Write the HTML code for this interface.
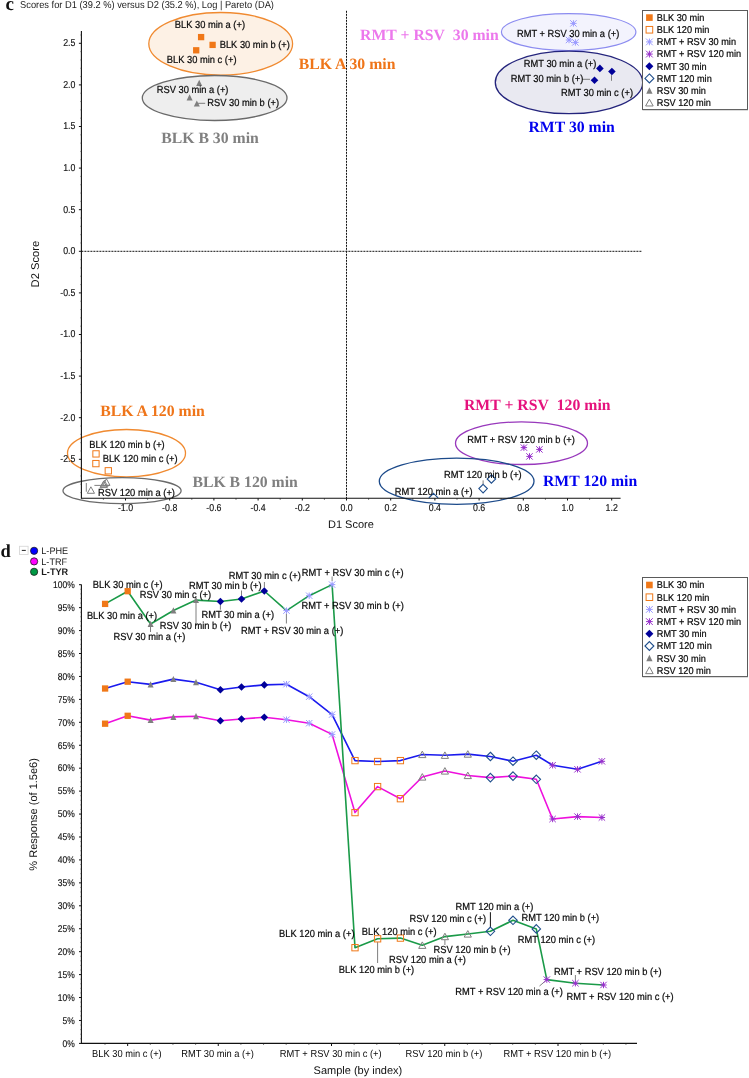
<!DOCTYPE html>
<html><head><meta charset="utf-8"><title>Scores plot</title>
<style>
html,body{margin:0;padding:0;background:#fff;}
body{width:749px;height:1078px;overflow:hidden;}
svg{display:block;will-change:transform;}

</style></head>
<body>
<svg width="749" height="1078" viewBox="0 0 749 1078" text-rendering="geometricPrecision">
<rect x="0" y="0" width="749" height="1078" fill="#fff"/>
<text x="5.60" y="9.60" font-size="19" fill="#111" text-anchor="start" font-weight="bold" font-family="Liberation Serif, serif" >c</text>
<text transform="translate(20.10 8.00) scale(0.929 1)" font-size="10.0" fill="#1a1a1a" text-anchor="start" font-weight="normal" font-family="Liberation Sans, sans-serif" >Scores for D1 (39.2 %) versus D2 (35.2 %), Log | Pareto (DA)</text>
<ellipse cx="220.70" cy="43.80" rx="71.90" ry="31.30" fill="#fdf1e5" stroke="#f08a30" stroke-width="1.3"/>
<ellipse cx="214.65" cy="98.00" rx="72.35" ry="22.50" fill="#eeeeee" stroke="#6a6a6a" stroke-width="1.3"/>
<ellipse cx="568.65" cy="32.10" rx="67.25" ry="18.50" fill="#f3f3fd" stroke="#8c8cf0" stroke-width="1.2"/>
<ellipse cx="569.00" cy="82.40" rx="73.70" ry="31.30" fill="#e9e9f1" stroke="#24247c" stroke-width="1.3"/>
<ellipse cx="126.50" cy="453.20" rx="59.00" ry="23.70" fill="none" stroke="#f08a30" stroke-width="1.3"/>
<ellipse cx="122.05" cy="490.70" rx="59.05" ry="13.00" fill="none" stroke="#6a6a6a" stroke-width="1.3"/>
<ellipse cx="521.50" cy="443.20" rx="66.00" ry="21.30" fill="none" stroke="#9838bc" stroke-width="1.3"/>
<ellipse cx="456.65" cy="481.20" rx="77.35" ry="23.10" fill="none" stroke="#1c4a8a" stroke-width="1.3"/>
<line x1="81.40" y1="251.30" x2="641.80" y2="251.30" stroke="#111" stroke-width="1" stroke-dasharray="2,1"/>
<line x1="81.40" y1="31.00" x2="81.40" y2="498.80" stroke="#111" stroke-width="1.1" />
<line x1="81.40" y1="498.30" x2="620.60" y2="498.30" stroke="#111" stroke-width="1.1" />
<line x1="80.40" y1="492.58" x2="81.40" y2="492.58" stroke="#333" stroke-width="0.6" />
<line x1="80.40" y1="484.26" x2="81.40" y2="484.26" stroke="#333" stroke-width="0.6" />
<line x1="80.40" y1="475.94" x2="81.40" y2="475.94" stroke="#333" stroke-width="0.6" />
<line x1="80.40" y1="467.62" x2="81.40" y2="467.62" stroke="#333" stroke-width="0.6" />
<line x1="78.90" y1="459.30" x2="81.40" y2="459.30" stroke="#111" stroke-width="1" />
<text transform="translate(75.40 462.10) scale(0.880 1)" font-size="10.0" fill="#111" text-anchor="end" font-weight="normal" font-family="Liberation Sans, sans-serif" stroke="#111" stroke-width="0.15">-2.5</text>
<line x1="80.40" y1="450.98" x2="81.40" y2="450.98" stroke="#333" stroke-width="0.6" />
<line x1="80.40" y1="442.66" x2="81.40" y2="442.66" stroke="#333" stroke-width="0.6" />
<line x1="80.40" y1="434.34" x2="81.40" y2="434.34" stroke="#333" stroke-width="0.6" />
<line x1="80.40" y1="426.02" x2="81.40" y2="426.02" stroke="#333" stroke-width="0.6" />
<line x1="78.90" y1="417.70" x2="81.40" y2="417.70" stroke="#111" stroke-width="1" />
<text transform="translate(75.40 420.50) scale(0.880 1)" font-size="10.0" fill="#111" text-anchor="end" font-weight="normal" font-family="Liberation Sans, sans-serif" stroke="#111" stroke-width="0.15">-2.0</text>
<line x1="80.40" y1="409.38" x2="81.40" y2="409.38" stroke="#333" stroke-width="0.6" />
<line x1="80.40" y1="401.06" x2="81.40" y2="401.06" stroke="#333" stroke-width="0.6" />
<line x1="80.40" y1="392.74" x2="81.40" y2="392.74" stroke="#333" stroke-width="0.6" />
<line x1="80.40" y1="384.42" x2="81.40" y2="384.42" stroke="#333" stroke-width="0.6" />
<line x1="78.90" y1="376.10" x2="81.40" y2="376.10" stroke="#111" stroke-width="1" />
<text transform="translate(75.40 378.90) scale(0.880 1)" font-size="10.0" fill="#111" text-anchor="end" font-weight="normal" font-family="Liberation Sans, sans-serif" stroke="#111" stroke-width="0.15">-1.5</text>
<line x1="80.40" y1="367.78" x2="81.40" y2="367.78" stroke="#333" stroke-width="0.6" />
<line x1="80.40" y1="359.46" x2="81.40" y2="359.46" stroke="#333" stroke-width="0.6" />
<line x1="80.40" y1="351.14" x2="81.40" y2="351.14" stroke="#333" stroke-width="0.6" />
<line x1="80.40" y1="342.82" x2="81.40" y2="342.82" stroke="#333" stroke-width="0.6" />
<line x1="78.90" y1="334.50" x2="81.40" y2="334.50" stroke="#111" stroke-width="1" />
<text transform="translate(75.40 337.30) scale(0.880 1)" font-size="10.0" fill="#111" text-anchor="end" font-weight="normal" font-family="Liberation Sans, sans-serif" stroke="#111" stroke-width="0.15">-1.0</text>
<line x1="80.40" y1="326.18" x2="81.40" y2="326.18" stroke="#333" stroke-width="0.6" />
<line x1="80.40" y1="317.86" x2="81.40" y2="317.86" stroke="#333" stroke-width="0.6" />
<line x1="80.40" y1="309.54" x2="81.40" y2="309.54" stroke="#333" stroke-width="0.6" />
<line x1="80.40" y1="301.22" x2="81.40" y2="301.22" stroke="#333" stroke-width="0.6" />
<line x1="78.90" y1="292.90" x2="81.40" y2="292.90" stroke="#111" stroke-width="1" />
<text transform="translate(75.40 295.70) scale(0.880 1)" font-size="10.0" fill="#111" text-anchor="end" font-weight="normal" font-family="Liberation Sans, sans-serif" stroke="#111" stroke-width="0.15">-0.5</text>
<line x1="80.40" y1="284.58" x2="81.40" y2="284.58" stroke="#333" stroke-width="0.6" />
<line x1="80.40" y1="276.26" x2="81.40" y2="276.26" stroke="#333" stroke-width="0.6" />
<line x1="80.40" y1="267.94" x2="81.40" y2="267.94" stroke="#333" stroke-width="0.6" />
<line x1="80.40" y1="259.62" x2="81.40" y2="259.62" stroke="#333" stroke-width="0.6" />
<line x1="78.90" y1="251.30" x2="81.40" y2="251.30" stroke="#111" stroke-width="1" />
<text transform="translate(75.40 254.10) scale(0.880 1)" font-size="10.0" fill="#111" text-anchor="end" font-weight="normal" font-family="Liberation Sans, sans-serif" stroke="#111" stroke-width="0.15">0.0</text>
<line x1="80.40" y1="242.98" x2="81.40" y2="242.98" stroke="#333" stroke-width="0.6" />
<line x1="80.40" y1="234.66" x2="81.40" y2="234.66" stroke="#333" stroke-width="0.6" />
<line x1="80.40" y1="226.34" x2="81.40" y2="226.34" stroke="#333" stroke-width="0.6" />
<line x1="80.40" y1="218.02" x2="81.40" y2="218.02" stroke="#333" stroke-width="0.6" />
<line x1="78.90" y1="209.70" x2="81.40" y2="209.70" stroke="#111" stroke-width="1" />
<text transform="translate(75.40 212.50) scale(0.880 1)" font-size="10.0" fill="#111" text-anchor="end" font-weight="normal" font-family="Liberation Sans, sans-serif" stroke="#111" stroke-width="0.15">0.5</text>
<line x1="80.40" y1="201.38" x2="81.40" y2="201.38" stroke="#333" stroke-width="0.6" />
<line x1="80.40" y1="193.06" x2="81.40" y2="193.06" stroke="#333" stroke-width="0.6" />
<line x1="80.40" y1="184.74" x2="81.40" y2="184.74" stroke="#333" stroke-width="0.6" />
<line x1="80.40" y1="176.42" x2="81.40" y2="176.42" stroke="#333" stroke-width="0.6" />
<line x1="78.90" y1="168.10" x2="81.40" y2="168.10" stroke="#111" stroke-width="1" />
<text transform="translate(75.40 170.90) scale(0.880 1)" font-size="10.0" fill="#111" text-anchor="end" font-weight="normal" font-family="Liberation Sans, sans-serif" stroke="#111" stroke-width="0.15">1.0</text>
<line x1="80.40" y1="159.78" x2="81.40" y2="159.78" stroke="#333" stroke-width="0.6" />
<line x1="80.40" y1="151.46" x2="81.40" y2="151.46" stroke="#333" stroke-width="0.6" />
<line x1="80.40" y1="143.14" x2="81.40" y2="143.14" stroke="#333" stroke-width="0.6" />
<line x1="80.40" y1="134.82" x2="81.40" y2="134.82" stroke="#333" stroke-width="0.6" />
<line x1="78.90" y1="126.50" x2="81.40" y2="126.50" stroke="#111" stroke-width="1" />
<text transform="translate(75.40 129.30) scale(0.880 1)" font-size="10.0" fill="#111" text-anchor="end" font-weight="normal" font-family="Liberation Sans, sans-serif" stroke="#111" stroke-width="0.15">1.5</text>
<line x1="80.40" y1="118.18" x2="81.40" y2="118.18" stroke="#333" stroke-width="0.6" />
<line x1="80.40" y1="109.86" x2="81.40" y2="109.86" stroke="#333" stroke-width="0.6" />
<line x1="80.40" y1="101.54" x2="81.40" y2="101.54" stroke="#333" stroke-width="0.6" />
<line x1="80.40" y1="93.22" x2="81.40" y2="93.22" stroke="#333" stroke-width="0.6" />
<line x1="78.90" y1="84.90" x2="81.40" y2="84.90" stroke="#111" stroke-width="1" />
<text transform="translate(75.40 87.70) scale(0.880 1)" font-size="10.0" fill="#111" text-anchor="end" font-weight="normal" font-family="Liberation Sans, sans-serif" stroke="#111" stroke-width="0.15">2.0</text>
<line x1="80.40" y1="76.58" x2="81.40" y2="76.58" stroke="#333" stroke-width="0.6" />
<line x1="80.40" y1="68.26" x2="81.40" y2="68.26" stroke="#333" stroke-width="0.6" />
<line x1="80.40" y1="59.94" x2="81.40" y2="59.94" stroke="#333" stroke-width="0.6" />
<line x1="80.40" y1="51.62" x2="81.40" y2="51.62" stroke="#333" stroke-width="0.6" />
<line x1="78.90" y1="43.30" x2="81.40" y2="43.30" stroke="#111" stroke-width="1" />
<text transform="translate(75.40 46.10) scale(0.880 1)" font-size="10.0" fill="#111" text-anchor="end" font-weight="normal" font-family="Liberation Sans, sans-serif" stroke="#111" stroke-width="0.15">2.5</text>
<line x1="80.40" y1="34.98" x2="81.40" y2="34.98" stroke="#333" stroke-width="0.6" />
<line x1="103.40" y1="498.30" x2="103.40" y2="499.70" stroke="#222" stroke-width="0.8" />
<line x1="125.50" y1="498.30" x2="125.50" y2="500.50" stroke="#111" stroke-width="1" />
<text transform="translate(125.50 510.60) scale(0.880 1)" font-size="10.0" fill="#111" text-anchor="middle" font-weight="normal" font-family="Liberation Sans, sans-serif" stroke="#111" stroke-width="0.15">-1.0</text>
<line x1="147.60" y1="498.30" x2="147.60" y2="499.70" stroke="#222" stroke-width="0.8" />
<line x1="169.70" y1="498.30" x2="169.70" y2="500.50" stroke="#111" stroke-width="1" />
<text transform="translate(169.70 510.60) scale(0.880 1)" font-size="10.0" fill="#111" text-anchor="middle" font-weight="normal" font-family="Liberation Sans, sans-serif" stroke="#111" stroke-width="0.15">-0.8</text>
<line x1="191.80" y1="498.30" x2="191.80" y2="499.70" stroke="#222" stroke-width="0.8" />
<line x1="213.90" y1="498.30" x2="213.90" y2="500.50" stroke="#111" stroke-width="1" />
<text transform="translate(213.90 510.60) scale(0.880 1)" font-size="10.0" fill="#111" text-anchor="middle" font-weight="normal" font-family="Liberation Sans, sans-serif" stroke="#111" stroke-width="0.15">-0.6</text>
<line x1="236.00" y1="498.30" x2="236.00" y2="499.70" stroke="#222" stroke-width="0.8" />
<line x1="258.10" y1="498.30" x2="258.10" y2="500.50" stroke="#111" stroke-width="1" />
<text transform="translate(258.10 510.60) scale(0.880 1)" font-size="10.0" fill="#111" text-anchor="middle" font-weight="normal" font-family="Liberation Sans, sans-serif" stroke="#111" stroke-width="0.15">-0.4</text>
<line x1="280.20" y1="498.30" x2="280.20" y2="499.70" stroke="#222" stroke-width="0.8" />
<line x1="302.30" y1="498.30" x2="302.30" y2="500.50" stroke="#111" stroke-width="1" />
<text transform="translate(302.30 510.60) scale(0.880 1)" font-size="10.0" fill="#111" text-anchor="middle" font-weight="normal" font-family="Liberation Sans, sans-serif" stroke="#111" stroke-width="0.15">-0.2</text>
<line x1="324.40" y1="498.30" x2="324.40" y2="499.70" stroke="#222" stroke-width="0.8" />
<line x1="346.50" y1="498.30" x2="346.50" y2="500.50" stroke="#111" stroke-width="1" />
<text transform="translate(346.50 510.60) scale(0.880 1)" font-size="10.0" fill="#111" text-anchor="middle" font-weight="normal" font-family="Liberation Sans, sans-serif" stroke="#111" stroke-width="0.15">0.0</text>
<line x1="368.60" y1="498.30" x2="368.60" y2="499.70" stroke="#222" stroke-width="0.8" />
<line x1="390.70" y1="498.30" x2="390.70" y2="500.50" stroke="#111" stroke-width="1" />
<text transform="translate(390.70 510.60) scale(0.880 1)" font-size="10.0" fill="#111" text-anchor="middle" font-weight="normal" font-family="Liberation Sans, sans-serif" stroke="#111" stroke-width="0.15">0.2</text>
<line x1="412.80" y1="498.30" x2="412.80" y2="499.70" stroke="#222" stroke-width="0.8" />
<line x1="434.90" y1="498.30" x2="434.90" y2="500.50" stroke="#111" stroke-width="1" />
<text transform="translate(434.90 510.60) scale(0.880 1)" font-size="10.0" fill="#111" text-anchor="middle" font-weight="normal" font-family="Liberation Sans, sans-serif" stroke="#111" stroke-width="0.15">0.4</text>
<line x1="457.00" y1="498.30" x2="457.00" y2="499.70" stroke="#222" stroke-width="0.8" />
<line x1="479.10" y1="498.30" x2="479.10" y2="500.50" stroke="#111" stroke-width="1" />
<text transform="translate(479.10 510.60) scale(0.880 1)" font-size="10.0" fill="#111" text-anchor="middle" font-weight="normal" font-family="Liberation Sans, sans-serif" stroke="#111" stroke-width="0.15">0.6</text>
<line x1="501.20" y1="498.30" x2="501.20" y2="499.70" stroke="#222" stroke-width="0.8" />
<line x1="523.30" y1="498.30" x2="523.30" y2="500.50" stroke="#111" stroke-width="1" />
<text transform="translate(523.30 510.60) scale(0.880 1)" font-size="10.0" fill="#111" text-anchor="middle" font-weight="normal" font-family="Liberation Sans, sans-serif" stroke="#111" stroke-width="0.15">0.8</text>
<line x1="545.40" y1="498.30" x2="545.40" y2="499.70" stroke="#222" stroke-width="0.8" />
<line x1="567.50" y1="498.30" x2="567.50" y2="500.50" stroke="#111" stroke-width="1" />
<text transform="translate(567.50 510.60) scale(0.880 1)" font-size="10.0" fill="#111" text-anchor="middle" font-weight="normal" font-family="Liberation Sans, sans-serif" stroke="#111" stroke-width="0.15">1.0</text>
<line x1="589.60" y1="498.30" x2="589.60" y2="499.70" stroke="#222" stroke-width="0.8" />
<line x1="611.70" y1="498.30" x2="611.70" y2="500.50" stroke="#111" stroke-width="1" />
<text transform="translate(611.70 510.60) scale(0.880 1)" font-size="10.0" fill="#111" text-anchor="middle" font-weight="normal" font-family="Liberation Sans, sans-serif" stroke="#111" stroke-width="0.15">1.2</text>
<text x="350.90" y="527.60" font-size="11" fill="#111" text-anchor="middle" font-weight="normal" font-family="Liberation Sans, sans-serif" >D1 Score</text>
<text transform="translate(39.3 264.1) rotate(-90)" font-size="11.2" fill="#111" text-anchor="middle" font-family="Liberation Sans, sans-serif">D2 Score</text>
<text x="298.70" y="69.00" font-size="15.75" fill="#ef7519" text-anchor="start" font-weight="bold" font-family="Liberation Serif, serif" >BLK A 30 min</text>
<text x="161.20" y="142.50" font-size="15.75" fill="#808080" text-anchor="start" font-weight="bold" font-family="Liberation Serif, serif" >BLK B 30 min</text>
<text x="360.10" y="39.50" font-size="15.75" fill="#ec78ec" text-anchor="start" font-weight="bold" font-family="Liberation Serif, serif" >RMT + RSV  30 min</text>
<text x="528.50" y="132.20" font-size="15.75" fill="#0000ee" text-anchor="start" font-weight="bold" font-family="Liberation Serif, serif" >RMT 30 min</text>
<text x="100.20" y="416.10" font-size="15.75" fill="#ef7519" text-anchor="start" font-weight="bold" font-family="Liberation Serif, serif" >BLK A 120 min</text>
<text x="192.40" y="486.70" font-size="15.75" fill="#808080" text-anchor="start" font-weight="bold" font-family="Liberation Serif, serif" >BLK B 120 min</text>
<text x="464.00" y="409.80" font-size="15.75" fill="#e5127d" text-anchor="start" font-weight="bold" font-family="Liberation Serif, serif" >RMT + RSV  120 min</text>
<text x="543.00" y="486.20" font-size="15.75" fill="#0000ee" text-anchor="start" font-weight="bold" font-family="Liberation Serif, serif" >RMT 120 min</text>
<line x1="346.50" y1="10.80" x2="346.50" y2="498.30" stroke="#111" stroke-width="1" stroke-dasharray="2,1"/>
<line x1="197.30" y1="103.30" x2="205.20" y2="103.30" stroke="#707070" stroke-width="0.9" />
<line x1="582.10" y1="79.30" x2="590.00" y2="79.30" stroke="#707070" stroke-width="0.9" />
<line x1="611.50" y1="75.20" x2="611.50" y2="80.80" stroke="#707070" stroke-width="0.9" />
<line x1="86.30" y1="483.00" x2="86.30" y2="491.70" stroke="#707070" stroke-width="0.9" />
<line x1="94.40" y1="485.40" x2="109.70" y2="485.40" stroke="#707070" stroke-width="0.9" />
<line x1="483.10" y1="480.40" x2="483.10" y2="484.10" stroke="#707070" stroke-width="0.9" />
<rect x="197.95" y="33.95" width="6.30" height="6.30" fill="#f07818"/>
<rect x="209.45" y="41.75" width="6.30" height="6.30" fill="#f07818"/>
<rect x="193.05" y="47.15" width="6.30" height="6.30" fill="#f07818"/>
<polygon points="199.20,79.80 202.20,86.00 196.20,86.00" fill="#7f7f7f"/>
<polygon points="189.60,94.30 192.60,100.50 186.60,100.50" fill="#7f7f7f"/>
<polygon points="196.80,100.40 199.80,106.60 193.80,106.60" fill="#7f7f7f"/>
<path d="M570.20,23.40H576.60M573.40,20.20V26.60M570.20,20.20L576.60,26.60M570.20,26.60L576.60,20.20" stroke="#9c9cff" stroke-width="1.0" fill="none"/>
<circle cx="573.40" cy="23.40" r="1.30" fill="#9c9cff"/>
<path d="M565.80,40.00H572.20M569.00,36.80V43.20M565.80,36.80L572.20,43.20M565.80,43.20L572.20,36.80" stroke="#9c9cff" stroke-width="1.0" fill="none"/>
<circle cx="569.00" cy="40.00" r="1.30" fill="#9c9cff"/>
<path d="M572.20,42.40H578.60M575.40,39.20V45.60M572.20,39.20L578.60,45.60M572.20,45.60L578.60,39.20" stroke="#9c9cff" stroke-width="1.0" fill="none"/>
<circle cx="575.40" cy="42.40" r="1.30" fill="#9c9cff"/>
<polygon points="599.90,64.60 603.70,68.40 599.90,72.20 596.10,68.40" fill="#000099"/>
<polygon points="611.90,67.70 615.70,71.50 611.90,75.30 608.10,71.50" fill="#000099"/>
<polygon points="594.50,76.40 598.30,80.20 594.50,84.00 590.70,80.20" fill="#000099"/>
<rect x="92.85" y="450.75" width="6.30" height="6.30" fill="none" stroke="#f07818" stroke-width="1"/>
<rect x="92.75" y="460.45" width="6.30" height="6.30" fill="none" stroke="#f07818" stroke-width="1"/>
<rect x="105.15" y="467.65" width="6.30" height="6.30" fill="none" stroke="#f07818" stroke-width="1"/>
<polygon points="90.90,486.80 94.50,493.30 87.30,493.30" fill="none" stroke="#7f7f7f" stroke-width="1"/>
<polygon points="106.40,478.80 110.00,485.30 102.80,485.30" fill="none" stroke="#7f7f7f" stroke-width="1"/>
<polygon points="104.40,480.30 108.00,486.80 100.80,486.80" fill="none" stroke="#7f7f7f" stroke-width="1"/>
<polygon points="103.60,481.10 107.20,487.60 100.00,487.60" fill="none" stroke="#7f7f7f" stroke-width="1"/>
<path d="M520.70,447.60H527.10M523.90,444.40V450.80M520.70,444.40L527.10,450.80M520.70,450.80L527.10,444.40" stroke="#9933cc" stroke-width="1.0" fill="none"/>
<circle cx="523.90" cy="447.60" r="1.30" fill="#9933cc"/>
<path d="M526.30,456.40H532.70M529.50,453.20V459.60M526.30,453.20L532.70,459.60M526.30,459.60L532.70,453.20" stroke="#9933cc" stroke-width="1.0" fill="none"/>
<circle cx="529.50" cy="456.40" r="1.30" fill="#9933cc"/>
<path d="M536.20,449.40H542.60M539.40,446.20V452.60M536.20,446.20L542.60,452.60M536.20,452.60L542.60,446.20" stroke="#9933cc" stroke-width="1.0" fill="none"/>
<circle cx="539.40" cy="449.40" r="1.30" fill="#9933cc"/>
<clipPath id="pc"><rect x="81" y="0" width="560" height="498"/></clipPath>
<g clip-path="url(#pc)">
<polygon points="483.10,484.35 487.35,488.60 483.10,492.85 478.85,488.60" fill="none" stroke="#1f4e8c" stroke-width="1.1"/>
<polygon points="491.40,474.75 495.65,479.00 491.40,483.25 487.15,479.00" fill="none" stroke="#1f4e8c" stroke-width="1.1"/>
<polygon points="433.50,493.35 437.75,497.60 433.50,501.85 429.25,497.60" fill="none" stroke="#1f4e8c" stroke-width="1.1"/>
</g>
<text transform="translate(174.80 28.10) scale(0.915 1)" font-size="10.2" fill="#0a0a0a" text-anchor="start" font-weight="normal" font-family="Liberation Sans, sans-serif" stroke="#0a0a0a" stroke-width="0.22">BLK 30 min a (+)</text>
<text transform="translate(219.70 47.70) scale(0.915 1)" font-size="10.2" fill="#0a0a0a" text-anchor="start" font-weight="normal" font-family="Liberation Sans, sans-serif" stroke="#0a0a0a" stroke-width="0.22">BLK 30 min b (+)</text>
<text transform="translate(166.80 62.70) scale(0.915 1)" font-size="10.2" fill="#0a0a0a" text-anchor="start" font-weight="normal" font-family="Liberation Sans, sans-serif" stroke="#0a0a0a" stroke-width="0.22">BLK 30 min c (+)</text>
<text transform="translate(156.70 93.00) scale(0.915 1)" font-size="10.2" fill="#0a0a0a" text-anchor="start" font-weight="normal" font-family="Liberation Sans, sans-serif" stroke="#0a0a0a" stroke-width="0.22">RSV 30 min a (+)</text>
<text transform="translate(207.30 106.20) scale(0.915 1)" font-size="10.2" fill="#0a0a0a" text-anchor="start" font-weight="normal" font-family="Liberation Sans, sans-serif" stroke="#0a0a0a" stroke-width="0.22">RSV 30 min b (+)</text>
<text transform="translate(516.90 36.50) scale(0.915 1)" font-size="10.2" fill="#0a0a0a" text-anchor="start" font-weight="normal" font-family="Liberation Sans, sans-serif" stroke="#0a0a0a" stroke-width="0.22">RMT + RSV 30 min a (+)</text>
<text transform="translate(523.80 67.30) scale(0.915 1)" font-size="10.2" fill="#0a0a0a" text-anchor="start" font-weight="normal" font-family="Liberation Sans, sans-serif" stroke="#0a0a0a" stroke-width="0.22">RMT 30 min a (+)</text>
<text transform="translate(510.70 81.60) scale(0.915 1)" font-size="10.2" fill="#0a0a0a" text-anchor="start" font-weight="normal" font-family="Liberation Sans, sans-serif" stroke="#0a0a0a" stroke-width="0.22">RMT 30 min b (+)</text>
<text transform="translate(560.90 95.50) scale(0.915 1)" font-size="10.2" fill="#0a0a0a" text-anchor="start" font-weight="normal" font-family="Liberation Sans, sans-serif" stroke="#0a0a0a" stroke-width="0.22">RMT 30 min c (+)</text>
<text transform="translate(89.30 448.10) scale(0.915 1)" font-size="10.2" fill="#0a0a0a" text-anchor="start" font-weight="normal" font-family="Liberation Sans, sans-serif" stroke="#0a0a0a" stroke-width="0.22">BLK 120 min b (+)</text>
<text transform="translate(102.70 461.60) scale(0.915 1)" font-size="10.2" fill="#0a0a0a" text-anchor="start" font-weight="normal" font-family="Liberation Sans, sans-serif" stroke="#0a0a0a" stroke-width="0.22">BLK 120 min c (+)</text>
<text transform="translate(98.00 496.20) scale(0.915 1)" font-size="10.2" fill="#0a0a0a" text-anchor="start" font-weight="normal" font-family="Liberation Sans, sans-serif" stroke="#0a0a0a" stroke-width="0.22">RSV 120 min a (+)</text>
<text transform="translate(467.20 443.00) scale(0.915 1)" font-size="10.2" fill="#0a0a0a" text-anchor="start" font-weight="normal" font-family="Liberation Sans, sans-serif" stroke="#0a0a0a" stroke-width="0.22">RMT + RSV 120 min b (+)</text>
<text transform="translate(443.90 478.20) scale(0.915 1)" font-size="10.2" fill="#0a0a0a" text-anchor="start" font-weight="normal" font-family="Liberation Sans, sans-serif" stroke="#0a0a0a" stroke-width="0.22">RMT 120 min b (+)</text>
<text transform="translate(394.80 495.30) scale(0.915 1)" font-size="10.2" fill="#0a0a0a" text-anchor="start" font-weight="normal" font-family="Liberation Sans, sans-serif" stroke="#0a0a0a" stroke-width="0.22">RMT 120 min a (+)</text>
<rect x="642.5" y="10.5" width="105.0" height="99.0" fill="#fff" stroke="#5a5a5a" stroke-width="1"/>
<line x1="642.50" y1="109.80" x2="748.00" y2="109.80" stroke="#6a6a6a" stroke-width="0.8" />
<rect x="646.09" y="14.29" width="6.62" height="6.62" fill="#f07818"/>
<text transform="translate(656.80 20.90) scale(0.930 1)" font-size="9.9" fill="#0a0a0a" text-anchor="start" font-weight="normal" font-family="Liberation Sans, sans-serif" stroke="#0a0a0a" stroke-width="0.22">BLK 30 min</text>
<rect x="646.09" y="26.45" width="6.62" height="6.62" fill="none" stroke="#f07818" stroke-width="1"/>
<text transform="translate(656.80 33.06) scale(0.930 1)" font-size="9.9" fill="#0a0a0a" text-anchor="start" font-weight="normal" font-family="Liberation Sans, sans-serif" stroke="#0a0a0a" stroke-width="0.22">BLK 120 min</text>
<path d="M646.04,41.92H652.76M649.40,38.56V45.28M646.04,38.56L652.76,45.28M646.04,45.28L652.76,38.56" stroke="#9c9cff" stroke-width="1.0" fill="none"/>
<circle cx="649.40" cy="41.92" r="1.37" fill="#9c9cff"/>
<text transform="translate(656.80 45.22) scale(0.930 1)" font-size="9.9" fill="#0a0a0a" text-anchor="start" font-weight="normal" font-family="Liberation Sans, sans-serif" stroke="#0a0a0a" stroke-width="0.22">RMT + RSV 30 min</text>
<path d="M646.04,54.08H652.76M649.40,50.72V57.44M646.04,50.72L652.76,57.44M646.04,57.44L652.76,50.72" stroke="#9933cc" stroke-width="1.0" fill="none"/>
<circle cx="649.40" cy="54.08" r="1.37" fill="#9933cc"/>
<text transform="translate(656.80 57.38) scale(0.930 1)" font-size="9.9" fill="#0a0a0a" text-anchor="start" font-weight="normal" font-family="Liberation Sans, sans-serif" stroke="#0a0a0a" stroke-width="0.22">RMT + RSV 120 min</text>
<polygon points="649.40,62.25 653.39,66.24 649.40,70.23 645.41,66.24" fill="#000099"/>
<text transform="translate(656.80 69.54) scale(0.930 1)" font-size="9.9" fill="#0a0a0a" text-anchor="start" font-weight="normal" font-family="Liberation Sans, sans-serif" stroke="#0a0a0a" stroke-width="0.22">RMT 30 min</text>
<polygon points="649.40,73.94 653.86,78.40 649.40,82.86 644.94,78.40" fill="none" stroke="#1f4e8c" stroke-width="1.1"/>
<text transform="translate(656.80 81.70) scale(0.930 1)" font-size="9.9" fill="#0a0a0a" text-anchor="start" font-weight="normal" font-family="Liberation Sans, sans-serif" stroke="#0a0a0a" stroke-width="0.22">RMT 120 min</text>
<polygon points="649.40,87.21 652.55,93.71 646.25,93.71" fill="#7f7f7f"/>
<text transform="translate(656.80 93.86) scale(0.930 1)" font-size="9.9" fill="#0a0a0a" text-anchor="start" font-weight="normal" font-family="Liberation Sans, sans-serif" stroke="#0a0a0a" stroke-width="0.22">RSV 30 min</text>
<polygon points="649.40,99.17 653.18,105.98 645.62,105.98" fill="none" stroke="#7f7f7f" stroke-width="1"/>
<text transform="translate(656.80 106.02) scale(0.930 1)" font-size="9.9" fill="#0a0a0a" text-anchor="start" font-weight="normal" font-family="Liberation Sans, sans-serif" stroke="#0a0a0a" stroke-width="0.22">RSV 120 min</text>
<text x="0.60" y="557.40" font-size="18.5" fill="#111" text-anchor="start" font-weight="bold" font-family="Liberation Serif, serif" >d</text>
<rect x="19.5" y="546.3" width="8.6" height="8.2" fill="#fff" stroke="#d8d8d8" stroke-width="0.9"/>
<line x1="21.80" y1="550.40" x2="25.80" y2="550.40" stroke="#222" stroke-width="1" />
<circle cx="34.1" cy="550.8" r="3.6" fill="#0000ff" stroke="#1a1a1a" stroke-width="0.8"/>
<text transform="translate(41.30 553.90) scale(0.960 1)" font-size="9.5" fill="#1a1a1a" text-anchor="start" font-weight="normal" font-family="Liberation Sans, sans-serif" >L-PHE</text>
<circle cx="34.1" cy="561.4" r="3.6" fill="#ff00ff" stroke="#1a1a1a" stroke-width="0.8"/>
<text transform="translate(41.30 564.50) scale(0.960 1)" font-size="9.5" fill="#1a1a1a" text-anchor="start" font-weight="normal" font-family="Liberation Sans, sans-serif" >L-TRF</text>
<circle cx="34.1" cy="571.8" r="3.6" fill="#009944" stroke="#1a1a1a" stroke-width="0.8"/>
<text transform="translate(41.30 574.90) scale(0.960 1)" font-size="9.5" fill="#1a1a1a" text-anchor="start" font-weight="bold" font-family="Liberation Sans, sans-serif" >L-TYR</text>
<line x1="81.40" y1="584.60" x2="81.40" y2="1043.90" stroke="#111" stroke-width="1.1" />
<line x1="81.40" y1="1043.40" x2="637.00" y2="1043.40" stroke="#111" stroke-width="1.1" />
<line x1="79.00" y1="1043.40" x2="81.40" y2="1043.40" stroke="#111" stroke-width="1" />
<text transform="translate(74.70 1046.70) scale(0.865 1)" font-size="9.8" fill="#111" text-anchor="end" font-weight="normal" font-family="Liberation Sans, sans-serif" stroke="#111" stroke-width="0.15">0%</text>
<line x1="80.40" y1="1038.81" x2="81.40" y2="1038.81" stroke="#333" stroke-width="0.6" />
<line x1="80.40" y1="1034.23" x2="81.40" y2="1034.23" stroke="#333" stroke-width="0.6" />
<line x1="80.40" y1="1029.64" x2="81.40" y2="1029.64" stroke="#333" stroke-width="0.6" />
<line x1="80.40" y1="1025.05" x2="81.40" y2="1025.05" stroke="#333" stroke-width="0.6" />
<line x1="79.00" y1="1020.47" x2="81.40" y2="1020.47" stroke="#111" stroke-width="1" />
<text transform="translate(74.70 1023.77) scale(0.865 1)" font-size="9.8" fill="#111" text-anchor="end" font-weight="normal" font-family="Liberation Sans, sans-serif" stroke="#111" stroke-width="0.15">5%</text>
<line x1="80.40" y1="1015.88" x2="81.40" y2="1015.88" stroke="#333" stroke-width="0.6" />
<line x1="80.40" y1="1011.29" x2="81.40" y2="1011.29" stroke="#333" stroke-width="0.6" />
<line x1="80.40" y1="1006.70" x2="81.40" y2="1006.70" stroke="#333" stroke-width="0.6" />
<line x1="80.40" y1="1002.12" x2="81.40" y2="1002.12" stroke="#333" stroke-width="0.6" />
<line x1="79.00" y1="997.53" x2="81.40" y2="997.53" stroke="#111" stroke-width="1" />
<text transform="translate(74.70 1000.83) scale(0.865 1)" font-size="9.8" fill="#111" text-anchor="end" font-weight="normal" font-family="Liberation Sans, sans-serif" stroke="#111" stroke-width="0.15">10%</text>
<line x1="80.40" y1="992.94" x2="81.40" y2="992.94" stroke="#333" stroke-width="0.6" />
<line x1="80.40" y1="988.36" x2="81.40" y2="988.36" stroke="#333" stroke-width="0.6" />
<line x1="80.40" y1="983.77" x2="81.40" y2="983.77" stroke="#333" stroke-width="0.6" />
<line x1="80.40" y1="979.18" x2="81.40" y2="979.18" stroke="#333" stroke-width="0.6" />
<line x1="79.00" y1="974.60" x2="81.40" y2="974.60" stroke="#111" stroke-width="1" />
<text transform="translate(74.70 977.90) scale(0.865 1)" font-size="9.8" fill="#111" text-anchor="end" font-weight="normal" font-family="Liberation Sans, sans-serif" stroke="#111" stroke-width="0.15">15%</text>
<line x1="80.40" y1="970.01" x2="81.40" y2="970.01" stroke="#333" stroke-width="0.6" />
<line x1="80.40" y1="965.42" x2="81.40" y2="965.42" stroke="#333" stroke-width="0.6" />
<line x1="80.40" y1="960.83" x2="81.40" y2="960.83" stroke="#333" stroke-width="0.6" />
<line x1="80.40" y1="956.25" x2="81.40" y2="956.25" stroke="#333" stroke-width="0.6" />
<line x1="79.00" y1="951.66" x2="81.40" y2="951.66" stroke="#111" stroke-width="1" />
<text transform="translate(74.70 954.96) scale(0.865 1)" font-size="9.8" fill="#111" text-anchor="end" font-weight="normal" font-family="Liberation Sans, sans-serif" stroke="#111" stroke-width="0.15">20%</text>
<line x1="80.40" y1="947.07" x2="81.40" y2="947.07" stroke="#333" stroke-width="0.6" />
<line x1="80.40" y1="942.49" x2="81.40" y2="942.49" stroke="#333" stroke-width="0.6" />
<line x1="80.40" y1="937.90" x2="81.40" y2="937.90" stroke="#333" stroke-width="0.6" />
<line x1="80.40" y1="933.31" x2="81.40" y2="933.31" stroke="#333" stroke-width="0.6" />
<line x1="79.00" y1="928.73" x2="81.40" y2="928.73" stroke="#111" stroke-width="1" />
<text transform="translate(74.70 932.03) scale(0.865 1)" font-size="9.8" fill="#111" text-anchor="end" font-weight="normal" font-family="Liberation Sans, sans-serif" stroke="#111" stroke-width="0.15">25%</text>
<line x1="80.40" y1="924.14" x2="81.40" y2="924.14" stroke="#333" stroke-width="0.6" />
<line x1="80.40" y1="919.55" x2="81.40" y2="919.55" stroke="#333" stroke-width="0.6" />
<line x1="80.40" y1="914.96" x2="81.40" y2="914.96" stroke="#333" stroke-width="0.6" />
<line x1="80.40" y1="910.38" x2="81.40" y2="910.38" stroke="#333" stroke-width="0.6" />
<line x1="79.00" y1="905.79" x2="81.40" y2="905.79" stroke="#111" stroke-width="1" />
<text transform="translate(74.70 909.09) scale(0.865 1)" font-size="9.8" fill="#111" text-anchor="end" font-weight="normal" font-family="Liberation Sans, sans-serif" stroke="#111" stroke-width="0.15">30%</text>
<line x1="80.40" y1="901.20" x2="81.40" y2="901.20" stroke="#333" stroke-width="0.6" />
<line x1="80.40" y1="896.62" x2="81.40" y2="896.62" stroke="#333" stroke-width="0.6" />
<line x1="80.40" y1="892.03" x2="81.40" y2="892.03" stroke="#333" stroke-width="0.6" />
<line x1="80.40" y1="887.44" x2="81.40" y2="887.44" stroke="#333" stroke-width="0.6" />
<line x1="79.00" y1="882.86" x2="81.40" y2="882.86" stroke="#111" stroke-width="1" />
<text transform="translate(74.70 886.16) scale(0.865 1)" font-size="9.8" fill="#111" text-anchor="end" font-weight="normal" font-family="Liberation Sans, sans-serif" stroke="#111" stroke-width="0.15">35%</text>
<line x1="80.40" y1="878.27" x2="81.40" y2="878.27" stroke="#333" stroke-width="0.6" />
<line x1="80.40" y1="873.68" x2="81.40" y2="873.68" stroke="#333" stroke-width="0.6" />
<line x1="80.40" y1="869.09" x2="81.40" y2="869.09" stroke="#333" stroke-width="0.6" />
<line x1="80.40" y1="864.51" x2="81.40" y2="864.51" stroke="#333" stroke-width="0.6" />
<line x1="79.00" y1="859.92" x2="81.40" y2="859.92" stroke="#111" stroke-width="1" />
<text transform="translate(74.70 863.22) scale(0.865 1)" font-size="9.8" fill="#111" text-anchor="end" font-weight="normal" font-family="Liberation Sans, sans-serif" stroke="#111" stroke-width="0.15">40%</text>
<line x1="80.40" y1="855.33" x2="81.40" y2="855.33" stroke="#333" stroke-width="0.6" />
<line x1="80.40" y1="850.75" x2="81.40" y2="850.75" stroke="#333" stroke-width="0.6" />
<line x1="80.40" y1="846.16" x2="81.40" y2="846.16" stroke="#333" stroke-width="0.6" />
<line x1="80.40" y1="841.57" x2="81.40" y2="841.57" stroke="#333" stroke-width="0.6" />
<line x1="79.00" y1="836.99" x2="81.40" y2="836.99" stroke="#111" stroke-width="1" />
<text transform="translate(74.70 840.29) scale(0.865 1)" font-size="9.8" fill="#111" text-anchor="end" font-weight="normal" font-family="Liberation Sans, sans-serif" stroke="#111" stroke-width="0.15">45%</text>
<line x1="80.40" y1="832.40" x2="81.40" y2="832.40" stroke="#333" stroke-width="0.6" />
<line x1="80.40" y1="827.81" x2="81.40" y2="827.81" stroke="#333" stroke-width="0.6" />
<line x1="80.40" y1="823.22" x2="81.40" y2="823.22" stroke="#333" stroke-width="0.6" />
<line x1="80.40" y1="818.64" x2="81.40" y2="818.64" stroke="#333" stroke-width="0.6" />
<line x1="79.00" y1="814.05" x2="81.40" y2="814.05" stroke="#111" stroke-width="1" />
<text transform="translate(74.70 817.35) scale(0.865 1)" font-size="9.8" fill="#111" text-anchor="end" font-weight="normal" font-family="Liberation Sans, sans-serif" stroke="#111" stroke-width="0.15">50%</text>
<line x1="80.40" y1="809.46" x2="81.40" y2="809.46" stroke="#333" stroke-width="0.6" />
<line x1="80.40" y1="804.88" x2="81.40" y2="804.88" stroke="#333" stroke-width="0.6" />
<line x1="80.40" y1="800.29" x2="81.40" y2="800.29" stroke="#333" stroke-width="0.6" />
<line x1="80.40" y1="795.70" x2="81.40" y2="795.70" stroke="#333" stroke-width="0.6" />
<line x1="79.00" y1="791.12" x2="81.40" y2="791.12" stroke="#111" stroke-width="1" />
<text transform="translate(74.70 794.42) scale(0.865 1)" font-size="9.8" fill="#111" text-anchor="end" font-weight="normal" font-family="Liberation Sans, sans-serif" stroke="#111" stroke-width="0.15">55%</text>
<line x1="80.40" y1="786.53" x2="81.40" y2="786.53" stroke="#333" stroke-width="0.6" />
<line x1="80.40" y1="781.94" x2="81.40" y2="781.94" stroke="#333" stroke-width="0.6" />
<line x1="80.40" y1="777.35" x2="81.40" y2="777.35" stroke="#333" stroke-width="0.6" />
<line x1="80.40" y1="772.77" x2="81.40" y2="772.77" stroke="#333" stroke-width="0.6" />
<line x1="79.00" y1="768.18" x2="81.40" y2="768.18" stroke="#111" stroke-width="1" />
<text transform="translate(74.70 771.48) scale(0.865 1)" font-size="9.8" fill="#111" text-anchor="end" font-weight="normal" font-family="Liberation Sans, sans-serif" stroke="#111" stroke-width="0.15">60%</text>
<line x1="80.40" y1="763.59" x2="81.40" y2="763.59" stroke="#333" stroke-width="0.6" />
<line x1="80.40" y1="759.01" x2="81.40" y2="759.01" stroke="#333" stroke-width="0.6" />
<line x1="80.40" y1="754.42" x2="81.40" y2="754.42" stroke="#333" stroke-width="0.6" />
<line x1="80.40" y1="749.83" x2="81.40" y2="749.83" stroke="#333" stroke-width="0.6" />
<line x1="79.00" y1="745.25" x2="81.40" y2="745.25" stroke="#111" stroke-width="1" />
<text transform="translate(74.70 748.55) scale(0.865 1)" font-size="9.8" fill="#111" text-anchor="end" font-weight="normal" font-family="Liberation Sans, sans-serif" stroke="#111" stroke-width="0.15">65%</text>
<line x1="80.40" y1="740.66" x2="81.40" y2="740.66" stroke="#333" stroke-width="0.6" />
<line x1="80.40" y1="736.07" x2="81.40" y2="736.07" stroke="#333" stroke-width="0.6" />
<line x1="80.40" y1="731.48" x2="81.40" y2="731.48" stroke="#333" stroke-width="0.6" />
<line x1="80.40" y1="726.90" x2="81.40" y2="726.90" stroke="#333" stroke-width="0.6" />
<line x1="79.00" y1="722.31" x2="81.40" y2="722.31" stroke="#111" stroke-width="1" />
<text transform="translate(74.70 725.61) scale(0.865 1)" font-size="9.8" fill="#111" text-anchor="end" font-weight="normal" font-family="Liberation Sans, sans-serif" stroke="#111" stroke-width="0.15">70%</text>
<line x1="80.40" y1="717.72" x2="81.40" y2="717.72" stroke="#333" stroke-width="0.6" />
<line x1="80.40" y1="713.14" x2="81.40" y2="713.14" stroke="#333" stroke-width="0.6" />
<line x1="80.40" y1="708.55" x2="81.40" y2="708.55" stroke="#333" stroke-width="0.6" />
<line x1="80.40" y1="703.96" x2="81.40" y2="703.96" stroke="#333" stroke-width="0.6" />
<line x1="79.00" y1="699.38" x2="81.40" y2="699.38" stroke="#111" stroke-width="1" />
<text transform="translate(74.70 702.68) scale(0.865 1)" font-size="9.8" fill="#111" text-anchor="end" font-weight="normal" font-family="Liberation Sans, sans-serif" stroke="#111" stroke-width="0.15">75%</text>
<line x1="80.40" y1="694.79" x2="81.40" y2="694.79" stroke="#333" stroke-width="0.6" />
<line x1="80.40" y1="690.20" x2="81.40" y2="690.20" stroke="#333" stroke-width="0.6" />
<line x1="80.40" y1="685.61" x2="81.40" y2="685.61" stroke="#333" stroke-width="0.6" />
<line x1="80.40" y1="681.03" x2="81.40" y2="681.03" stroke="#333" stroke-width="0.6" />
<line x1="79.00" y1="676.44" x2="81.40" y2="676.44" stroke="#111" stroke-width="1" />
<text transform="translate(74.70 679.74) scale(0.865 1)" font-size="9.8" fill="#111" text-anchor="end" font-weight="normal" font-family="Liberation Sans, sans-serif" stroke="#111" stroke-width="0.15">80%</text>
<line x1="80.40" y1="671.85" x2="81.40" y2="671.85" stroke="#333" stroke-width="0.6" />
<line x1="80.40" y1="667.27" x2="81.40" y2="667.27" stroke="#333" stroke-width="0.6" />
<line x1="80.40" y1="662.68" x2="81.40" y2="662.68" stroke="#333" stroke-width="0.6" />
<line x1="80.40" y1="658.09" x2="81.40" y2="658.09" stroke="#333" stroke-width="0.6" />
<line x1="79.00" y1="653.51" x2="81.40" y2="653.51" stroke="#111" stroke-width="1" />
<text transform="translate(74.70 656.81) scale(0.865 1)" font-size="9.8" fill="#111" text-anchor="end" font-weight="normal" font-family="Liberation Sans, sans-serif" stroke="#111" stroke-width="0.15">85%</text>
<line x1="80.40" y1="648.92" x2="81.40" y2="648.92" stroke="#333" stroke-width="0.6" />
<line x1="80.40" y1="644.33" x2="81.40" y2="644.33" stroke="#333" stroke-width="0.6" />
<line x1="80.40" y1="639.74" x2="81.40" y2="639.74" stroke="#333" stroke-width="0.6" />
<line x1="80.40" y1="635.16" x2="81.40" y2="635.16" stroke="#333" stroke-width="0.6" />
<line x1="79.00" y1="630.57" x2="81.40" y2="630.57" stroke="#111" stroke-width="1" />
<text transform="translate(74.70 633.87) scale(0.865 1)" font-size="9.8" fill="#111" text-anchor="end" font-weight="normal" font-family="Liberation Sans, sans-serif" stroke="#111" stroke-width="0.15">90%</text>
<line x1="80.40" y1="625.98" x2="81.40" y2="625.98" stroke="#333" stroke-width="0.6" />
<line x1="80.40" y1="621.40" x2="81.40" y2="621.40" stroke="#333" stroke-width="0.6" />
<line x1="80.40" y1="616.81" x2="81.40" y2="616.81" stroke="#333" stroke-width="0.6" />
<line x1="80.40" y1="612.22" x2="81.40" y2="612.22" stroke="#333" stroke-width="0.6" />
<line x1="79.00" y1="607.64" x2="81.40" y2="607.64" stroke="#111" stroke-width="1" />
<text transform="translate(74.70 610.94) scale(0.865 1)" font-size="9.8" fill="#111" text-anchor="end" font-weight="normal" font-family="Liberation Sans, sans-serif" stroke="#111" stroke-width="0.15">95%</text>
<line x1="80.40" y1="603.05" x2="81.40" y2="603.05" stroke="#333" stroke-width="0.6" />
<line x1="80.40" y1="598.46" x2="81.40" y2="598.46" stroke="#333" stroke-width="0.6" />
<line x1="80.40" y1="593.87" x2="81.40" y2="593.87" stroke="#333" stroke-width="0.6" />
<line x1="80.40" y1="589.29" x2="81.40" y2="589.29" stroke="#333" stroke-width="0.6" />
<line x1="79.00" y1="584.70" x2="81.40" y2="584.70" stroke="#111" stroke-width="1" />
<text transform="translate(74.70 588.00) scale(0.865 1)" font-size="9.8" fill="#111" text-anchor="end" font-weight="normal" font-family="Liberation Sans, sans-serif" stroke="#111" stroke-width="0.15">100%</text>
<line x1="105.00" y1="1043.40" x2="105.00" y2="1044.70" stroke="#222" stroke-width="0.8" />
<line x1="127.65" y1="1043.40" x2="127.65" y2="1046.00" stroke="#111" stroke-width="1" />
<line x1="150.30" y1="1043.40" x2="150.30" y2="1044.70" stroke="#222" stroke-width="0.8" />
<line x1="172.95" y1="1043.40" x2="172.95" y2="1044.70" stroke="#222" stroke-width="0.8" />
<line x1="195.60" y1="1043.40" x2="195.60" y2="1044.70" stroke="#222" stroke-width="0.8" />
<line x1="218.25" y1="1043.40" x2="218.25" y2="1046.00" stroke="#111" stroke-width="1" />
<line x1="240.90" y1="1043.40" x2="240.90" y2="1044.70" stroke="#222" stroke-width="0.8" />
<line x1="263.55" y1="1043.40" x2="263.55" y2="1044.70" stroke="#222" stroke-width="0.8" />
<line x1="286.20" y1="1043.40" x2="286.20" y2="1044.70" stroke="#222" stroke-width="0.8" />
<line x1="308.85" y1="1043.40" x2="308.85" y2="1044.70" stroke="#222" stroke-width="0.8" />
<line x1="331.50" y1="1043.40" x2="331.50" y2="1046.00" stroke="#111" stroke-width="1" />
<line x1="354.15" y1="1043.40" x2="354.15" y2="1044.70" stroke="#222" stroke-width="0.8" />
<line x1="376.80" y1="1043.40" x2="376.80" y2="1044.70" stroke="#222" stroke-width="0.8" />
<line x1="399.45" y1="1043.40" x2="399.45" y2="1044.70" stroke="#222" stroke-width="0.8" />
<line x1="422.10" y1="1043.40" x2="422.10" y2="1044.70" stroke="#222" stroke-width="0.8" />
<line x1="444.75" y1="1043.40" x2="444.75" y2="1046.00" stroke="#111" stroke-width="1" />
<line x1="467.40" y1="1043.40" x2="467.40" y2="1044.70" stroke="#222" stroke-width="0.8" />
<line x1="490.05" y1="1043.40" x2="490.05" y2="1044.70" stroke="#222" stroke-width="0.8" />
<line x1="512.70" y1="1043.40" x2="512.70" y2="1044.70" stroke="#222" stroke-width="0.8" />
<line x1="535.35" y1="1043.40" x2="535.35" y2="1044.70" stroke="#222" stroke-width="0.8" />
<line x1="558.00" y1="1043.40" x2="558.00" y2="1046.00" stroke="#111" stroke-width="1" />
<line x1="580.65" y1="1043.40" x2="580.65" y2="1044.70" stroke="#222" stroke-width="0.8" />
<line x1="603.30" y1="1043.40" x2="603.30" y2="1044.70" stroke="#222" stroke-width="0.8" />
<line x1="625.95" y1="1043.40" x2="625.95" y2="1044.70" stroke="#222" stroke-width="0.8" />
<text transform="translate(126.85 1056.50) scale(0.915 1)" font-size="10.2" fill="#0a0a0a" text-anchor="middle" font-weight="normal" font-family="Liberation Sans, sans-serif" >BLK 30 min c (+)</text>
<text transform="translate(217.45 1056.50) scale(0.915 1)" font-size="10.2" fill="#0a0a0a" text-anchor="middle" font-weight="normal" font-family="Liberation Sans, sans-serif" >RMT 30 min a (+)</text>
<text transform="translate(330.70 1056.50) scale(0.915 1)" font-size="10.2" fill="#0a0a0a" text-anchor="middle" font-weight="normal" font-family="Liberation Sans, sans-serif" >RMT + RSV 30 min c (+)</text>
<text transform="translate(443.95 1056.50) scale(0.915 1)" font-size="10.2" fill="#0a0a0a" text-anchor="middle" font-weight="normal" font-family="Liberation Sans, sans-serif" >RSV 120 min b (+)</text>
<text transform="translate(557.20 1056.50) scale(0.915 1)" font-size="10.2" fill="#0a0a0a" text-anchor="middle" font-weight="normal" font-family="Liberation Sans, sans-serif" >RMT + RSV 120 min b (+)</text>
<text x="357.90" y="1074.00" font-size="11" fill="#111" text-anchor="middle" font-weight="normal" font-family="Liberation Sans, sans-serif" >Sample (by index)</text>
<text transform="translate(37.2 814.4) rotate(-90)" font-size="11" fill="#111" text-anchor="middle" font-family="Liberation Sans, sans-serif">% Response (of 1.5e6)</text>
<polyline points="105.10,688.50 127.70,681.70 150.60,684.40 173.40,679.10 196.00,682.30 220.40,689.80 241.50,687.00 264.30,684.90 286.50,684.20 309.20,696.70 332.10,714.60 355.00,760.60 377.60,761.50 400.40,760.60 422.30,754.50 444.90,755.30 467.80,754.10 490.40,756.50 513.00,761.20 536.30,755.20 552.60,765.20 577.50,769.30 601.90,761.30" fill="none" stroke="#1a1aee" stroke-width="1.6" stroke-linejoin="round"/>
<polyline points="105.10,723.70 127.70,715.80 150.60,720.10 173.40,716.90 196.00,716.30 220.40,720.80 241.50,719.00 264.30,717.30 286.50,719.70 309.20,723.20 332.10,734.40 355.00,812.60 377.60,786.60 400.40,798.70 422.30,777.00 444.90,771.00 467.80,775.50 490.40,777.60 513.00,776.10 536.30,779.30 552.60,819.00 577.50,816.60 601.90,817.50" fill="none" stroke="#ee10dd" stroke-width="1.6" stroke-linejoin="round"/>
<polyline points="105.10,603.90 127.70,591.20 150.60,624.00 173.40,610.50 196.00,600.10 220.40,601.50 241.50,599.00 264.30,591.00 286.50,610.60 309.20,595.70 332.10,584.60 355.00,947.70 377.60,938.80 400.40,938.10 422.30,945.30 444.90,936.60 467.80,934.00 490.40,931.30 513.00,920.30 536.30,928.90 546.80,979.60 575.40,983.20 603.50,985.00" fill="none" stroke="#1a9a48" stroke-width="1.6" stroke-linejoin="round"/>
<line x1="150.50" y1="626.50" x2="150.50" y2="632.00" stroke="#707070" stroke-width="0.9" />
<line x1="196.00" y1="603.00" x2="196.00" y2="626.00" stroke="#707070" stroke-width="0.9" />
<line x1="241.50" y1="590.50" x2="241.50" y2="595.50" stroke="#707070" stroke-width="0.9" />
<line x1="264.40" y1="582.00" x2="264.40" y2="587.50" stroke="#707070" stroke-width="0.9" />
<line x1="220.40" y1="605.00" x2="220.40" y2="609.70" stroke="#707070" stroke-width="0.9" />
<line x1="286.40" y1="613.50" x2="286.40" y2="623.50" stroke="#707070" stroke-width="0.9" />
<line x1="332.10" y1="576.50" x2="332.10" y2="581.00" stroke="#707070" stroke-width="0.9" />
<line x1="377.60" y1="942.00" x2="377.60" y2="963.00" stroke="#707070" stroke-width="0.9" />
<line x1="444.90" y1="940.00" x2="444.90" y2="945.00" stroke="#707070" stroke-width="0.9" />
<line x1="575.40" y1="975.00" x2="575.40" y2="980.00" stroke="#707070" stroke-width="0.9" />
<line x1="546.00" y1="980.50" x2="539.50" y2="986.00" stroke="#707070" stroke-width="0.9" />
<line x1="490.40" y1="912.20" x2="490.40" y2="927.50" stroke="#111" stroke-width="1.0" />
<rect x="101.95" y="685.35" width="6.30" height="6.30" fill="#f07818"/>
<rect x="124.55" y="678.55" width="6.30" height="6.30" fill="#f07818"/>
<polygon points="150.60,681.20 153.60,687.40 147.60,687.40" fill="#7f7f7f"/>
<polygon points="173.40,675.90 176.40,682.10 170.40,682.10" fill="#7f7f7f"/>
<polygon points="196.00,679.10 199.00,685.30 193.00,685.30" fill="#7f7f7f"/>
<polygon points="220.40,686.00 224.20,689.80 220.40,693.60 216.60,689.80" fill="#000099"/>
<polygon points="241.50,683.20 245.30,687.00 241.50,690.80 237.70,687.00" fill="#000099"/>
<polygon points="264.30,681.10 268.10,684.90 264.30,688.70 260.50,684.90" fill="#000099"/>
<path d="M283.30,684.20H289.70M286.50,681.00V687.40M283.30,681.00L289.70,687.40M283.30,687.40L289.70,681.00" stroke="#9c9cff" stroke-width="1.0" fill="none"/>
<circle cx="286.50" cy="684.20" r="1.30" fill="#9c9cff"/>
<path d="M306.00,696.70H312.40M309.20,693.50V699.90M306.00,693.50L312.40,699.90M306.00,699.90L312.40,693.50" stroke="#9c9cff" stroke-width="1.0" fill="none"/>
<circle cx="309.20" cy="696.70" r="1.30" fill="#9c9cff"/>
<path d="M328.90,714.60H335.30M332.10,711.40V717.80M328.90,711.40L335.30,717.80M328.90,717.80L335.30,711.40" stroke="#9c9cff" stroke-width="1.0" fill="none"/>
<circle cx="332.10" cy="714.60" r="1.30" fill="#9c9cff"/>
<rect x="351.85" y="757.45" width="6.30" height="6.30" fill="none" stroke="#f07818" stroke-width="1"/>
<rect x="374.45" y="758.35" width="6.30" height="6.30" fill="none" stroke="#f07818" stroke-width="1"/>
<rect x="397.25" y="757.45" width="6.30" height="6.30" fill="none" stroke="#f07818" stroke-width="1"/>
<polygon points="422.30,751.10 425.90,757.60 418.70,757.60" fill="none" stroke="#7f7f7f" stroke-width="1"/>
<polygon points="444.90,751.90 448.50,758.40 441.30,758.40" fill="none" stroke="#7f7f7f" stroke-width="1"/>
<polygon points="467.80,750.70 471.40,757.20 464.20,757.20" fill="none" stroke="#7f7f7f" stroke-width="1"/>
<polygon points="490.40,752.25 494.65,756.50 490.40,760.75 486.15,756.50" fill="none" stroke="#1f4e8c" stroke-width="1.1"/>
<polygon points="513.00,756.95 517.25,761.20 513.00,765.45 508.75,761.20" fill="none" stroke="#1f4e8c" stroke-width="1.1"/>
<polygon points="536.30,750.95 540.55,755.20 536.30,759.45 532.05,755.20" fill="none" stroke="#1f4e8c" stroke-width="1.1"/>
<path d="M549.40,765.20H555.80M552.60,762.00V768.40M549.40,762.00L555.80,768.40M549.40,768.40L555.80,762.00" stroke="#9933cc" stroke-width="1.0" fill="none"/>
<circle cx="552.60" cy="765.20" r="1.30" fill="#9933cc"/>
<path d="M574.30,769.30H580.70M577.50,766.10V772.50M574.30,766.10L580.70,772.50M574.30,772.50L580.70,766.10" stroke="#9933cc" stroke-width="1.0" fill="none"/>
<circle cx="577.50" cy="769.30" r="1.30" fill="#9933cc"/>
<path d="M598.70,761.30H605.10M601.90,758.10V764.50M598.70,758.10L605.10,764.50M598.70,764.50L605.10,758.10" stroke="#9933cc" stroke-width="1.0" fill="none"/>
<circle cx="601.90" cy="761.30" r="1.30" fill="#9933cc"/>
<rect x="101.95" y="720.55" width="6.30" height="6.30" fill="#f07818"/>
<rect x="124.55" y="712.65" width="6.30" height="6.30" fill="#f07818"/>
<polygon points="150.60,716.90 153.60,723.10 147.60,723.10" fill="#7f7f7f"/>
<polygon points="173.40,713.70 176.40,719.90 170.40,719.90" fill="#7f7f7f"/>
<polygon points="196.00,713.10 199.00,719.30 193.00,719.30" fill="#7f7f7f"/>
<polygon points="220.40,717.00 224.20,720.80 220.40,724.60 216.60,720.80" fill="#000099"/>
<polygon points="241.50,715.20 245.30,719.00 241.50,722.80 237.70,719.00" fill="#000099"/>
<polygon points="264.30,713.50 268.10,717.30 264.30,721.10 260.50,717.30" fill="#000099"/>
<path d="M283.30,719.70H289.70M286.50,716.50V722.90M283.30,716.50L289.70,722.90M283.30,722.90L289.70,716.50" stroke="#9c9cff" stroke-width="1.0" fill="none"/>
<circle cx="286.50" cy="719.70" r="1.30" fill="#9c9cff"/>
<path d="M306.00,723.20H312.40M309.20,720.00V726.40M306.00,720.00L312.40,726.40M306.00,726.40L312.40,720.00" stroke="#9c9cff" stroke-width="1.0" fill="none"/>
<circle cx="309.20" cy="723.20" r="1.30" fill="#9c9cff"/>
<path d="M328.90,734.40H335.30M332.10,731.20V737.60M328.90,731.20L335.30,737.60M328.90,737.60L335.30,731.20" stroke="#9c9cff" stroke-width="1.0" fill="none"/>
<circle cx="332.10" cy="734.40" r="1.30" fill="#9c9cff"/>
<rect x="351.85" y="809.45" width="6.30" height="6.30" fill="none" stroke="#f07818" stroke-width="1"/>
<rect x="374.45" y="783.45" width="6.30" height="6.30" fill="none" stroke="#f07818" stroke-width="1"/>
<rect x="397.25" y="795.55" width="6.30" height="6.30" fill="none" stroke="#f07818" stroke-width="1"/>
<polygon points="422.30,773.60 425.90,780.10 418.70,780.10" fill="none" stroke="#7f7f7f" stroke-width="1"/>
<polygon points="444.90,767.60 448.50,774.10 441.30,774.10" fill="none" stroke="#7f7f7f" stroke-width="1"/>
<polygon points="467.80,772.10 471.40,778.60 464.20,778.60" fill="none" stroke="#7f7f7f" stroke-width="1"/>
<polygon points="490.40,773.35 494.65,777.60 490.40,781.85 486.15,777.60" fill="none" stroke="#1f4e8c" stroke-width="1.1"/>
<polygon points="513.00,771.85 517.25,776.10 513.00,780.35 508.75,776.10" fill="none" stroke="#1f4e8c" stroke-width="1.1"/>
<polygon points="536.30,775.05 540.55,779.30 536.30,783.55 532.05,779.30" fill="none" stroke="#1f4e8c" stroke-width="1.1"/>
<path d="M549.40,819.00H555.80M552.60,815.80V822.20M549.40,815.80L555.80,822.20M549.40,822.20L555.80,815.80" stroke="#9933cc" stroke-width="1.0" fill="none"/>
<circle cx="552.60" cy="819.00" r="1.30" fill="#9933cc"/>
<path d="M574.30,816.60H580.70M577.50,813.40V819.80M574.30,813.40L580.70,819.80M574.30,819.80L580.70,813.40" stroke="#9933cc" stroke-width="1.0" fill="none"/>
<circle cx="577.50" cy="816.60" r="1.30" fill="#9933cc"/>
<path d="M598.70,817.50H605.10M601.90,814.30V820.70M598.70,814.30L605.10,820.70M598.70,820.70L605.10,814.30" stroke="#9933cc" stroke-width="1.0" fill="none"/>
<circle cx="601.90" cy="817.50" r="1.30" fill="#9933cc"/>
<rect x="101.95" y="600.75" width="6.30" height="6.30" fill="#f07818"/>
<rect x="124.55" y="588.05" width="6.30" height="6.30" fill="#f07818"/>
<polygon points="150.60,620.80 153.60,627.00 147.60,627.00" fill="#7f7f7f"/>
<polygon points="173.40,607.30 176.40,613.50 170.40,613.50" fill="#7f7f7f"/>
<polygon points="196.00,596.90 199.00,603.10 193.00,603.10" fill="#7f7f7f"/>
<polygon points="220.40,597.70 224.20,601.50 220.40,605.30 216.60,601.50" fill="#000099"/>
<polygon points="241.50,595.20 245.30,599.00 241.50,602.80 237.70,599.00" fill="#000099"/>
<polygon points="264.30,587.20 268.10,591.00 264.30,594.80 260.50,591.00" fill="#000099"/>
<path d="M283.30,610.60H289.70M286.50,607.40V613.80M283.30,607.40L289.70,613.80M283.30,613.80L289.70,607.40" stroke="#9c9cff" stroke-width="1.0" fill="none"/>
<circle cx="286.50" cy="610.60" r="1.30" fill="#9c9cff"/>
<path d="M306.00,595.70H312.40M309.20,592.50V598.90M306.00,592.50L312.40,598.90M306.00,598.90L312.40,592.50" stroke="#9c9cff" stroke-width="1.0" fill="none"/>
<circle cx="309.20" cy="595.70" r="1.30" fill="#9c9cff"/>
<path d="M328.90,584.60H335.30M332.10,581.40V587.80M328.90,581.40L335.30,587.80M328.90,587.80L335.30,581.40" stroke="#9c9cff" stroke-width="1.0" fill="none"/>
<circle cx="332.10" cy="584.60" r="1.30" fill="#9c9cff"/>
<rect x="351.85" y="944.55" width="6.30" height="6.30" fill="none" stroke="#f07818" stroke-width="1"/>
<rect x="374.45" y="935.65" width="6.30" height="6.30" fill="none" stroke="#f07818" stroke-width="1"/>
<rect x="397.25" y="934.95" width="6.30" height="6.30" fill="none" stroke="#f07818" stroke-width="1"/>
<polygon points="422.30,941.90 425.90,948.40 418.70,948.40" fill="none" stroke="#7f7f7f" stroke-width="1"/>
<polygon points="444.90,933.20 448.50,939.70 441.30,939.70" fill="none" stroke="#7f7f7f" stroke-width="1"/>
<polygon points="467.80,930.60 471.40,937.10 464.20,937.10" fill="none" stroke="#7f7f7f" stroke-width="1"/>
<polygon points="490.40,927.05 494.65,931.30 490.40,935.55 486.15,931.30" fill="none" stroke="#1f4e8c" stroke-width="1.1"/>
<polygon points="513.00,916.05 517.25,920.30 513.00,924.55 508.75,920.30" fill="none" stroke="#1f4e8c" stroke-width="1.1"/>
<polygon points="536.30,924.65 540.55,928.90 536.30,933.15 532.05,928.90" fill="none" stroke="#1f4e8c" stroke-width="1.1"/>
<path d="M543.60,979.60H550.00M546.80,976.40V982.80M543.60,976.40L550.00,982.80M543.60,982.80L550.00,976.40" stroke="#9933cc" stroke-width="1.0" fill="none"/>
<circle cx="546.80" cy="979.60" r="1.30" fill="#9933cc"/>
<path d="M572.20,983.20H578.60M575.40,980.00V986.40M572.20,980.00L578.60,986.40M572.20,986.40L578.60,980.00" stroke="#9933cc" stroke-width="1.0" fill="none"/>
<circle cx="575.40" cy="983.20" r="1.30" fill="#9933cc"/>
<path d="M600.30,985.00H606.70M603.50,981.80V988.20M600.30,981.80L606.70,988.20M600.30,988.20L606.70,981.80" stroke="#9933cc" stroke-width="1.0" fill="none"/>
<circle cx="603.50" cy="985.00" r="1.30" fill="#9933cc"/>
<text transform="translate(92.80 587.60) scale(0.915 1)" font-size="10.2" fill="#0a0a0a" text-anchor="start" font-weight="normal" font-family="Liberation Sans, sans-serif" stroke="#0a0a0a" stroke-width="0.22">BLK 30 min c (+)</text>
<text transform="translate(86.90 619.20) scale(0.915 1)" font-size="10.2" fill="#0a0a0a" text-anchor="start" font-weight="normal" font-family="Liberation Sans, sans-serif" stroke="#0a0a0a" stroke-width="0.22">BLK 30 min a (+)</text>
<text transform="translate(139.80 598.10) scale(0.915 1)" font-size="10.2" fill="#0a0a0a" text-anchor="start" font-weight="normal" font-family="Liberation Sans, sans-serif" stroke="#0a0a0a" stroke-width="0.22">RSV 30 min c (+)</text>
<text transform="translate(113.50 639.60) scale(0.915 1)" font-size="10.2" fill="#0a0a0a" text-anchor="start" font-weight="normal" font-family="Liberation Sans, sans-serif" stroke="#0a0a0a" stroke-width="0.22">RSV 30 min a (+)</text>
<text transform="translate(159.70 629.10) scale(0.915 1)" font-size="10.2" fill="#0a0a0a" text-anchor="start" font-weight="normal" font-family="Liberation Sans, sans-serif" stroke="#0a0a0a" stroke-width="0.22">RSV 30 min b (+)</text>
<text transform="translate(189.00 588.70) scale(0.915 1)" font-size="10.2" fill="#0a0a0a" text-anchor="start" font-weight="normal" font-family="Liberation Sans, sans-serif" stroke="#0a0a0a" stroke-width="0.22">RMT 30 min b (+)</text>
<text transform="translate(228.70 578.80) scale(0.915 1)" font-size="10.2" fill="#0a0a0a" text-anchor="start" font-weight="normal" font-family="Liberation Sans, sans-serif" stroke="#0a0a0a" stroke-width="0.22">RMT 30 min c (+)</text>
<text transform="translate(201.40 617.70) scale(0.915 1)" font-size="10.2" fill="#0a0a0a" text-anchor="start" font-weight="normal" font-family="Liberation Sans, sans-serif" stroke="#0a0a0a" stroke-width="0.22">RMT 30 min a (+)</text>
<text transform="translate(240.90 634.20) scale(0.915 1)" font-size="10.2" fill="#0a0a0a" text-anchor="start" font-weight="normal" font-family="Liberation Sans, sans-serif" stroke="#0a0a0a" stroke-width="0.22">RMT + RSV 30 min a (+)</text>
<text transform="translate(301.80 576.00) scale(0.915 1)" font-size="10.2" fill="#0a0a0a" text-anchor="start" font-weight="normal" font-family="Liberation Sans, sans-serif" stroke="#0a0a0a" stroke-width="0.22">RMT + RSV 30 min c (+)</text>
<text transform="translate(301.40 609.20) scale(0.915 1)" font-size="10.2" fill="#0a0a0a" text-anchor="start" font-weight="normal" font-family="Liberation Sans, sans-serif" stroke="#0a0a0a" stroke-width="0.22">RMT + RSV 30 min b (+)</text>
<text transform="translate(279.10 937.00) scale(0.915 1)" font-size="10.2" fill="#0a0a0a" text-anchor="start" font-weight="normal" font-family="Liberation Sans, sans-serif" stroke="#0a0a0a" stroke-width="0.22">BLK 120 min a (+)</text>
<text transform="translate(361.80 935.30) scale(0.915 1)" font-size="10.2" fill="#0a0a0a" text-anchor="start" font-weight="normal" font-family="Liberation Sans, sans-serif" stroke="#0a0a0a" stroke-width="0.22">BLK 120 min c (+)</text>
<text transform="translate(338.80 973.10) scale(0.915 1)" font-size="10.2" fill="#0a0a0a" text-anchor="start" font-weight="normal" font-family="Liberation Sans, sans-serif" stroke="#0a0a0a" stroke-width="0.22">BLK 120 min b (+)</text>
<text transform="translate(389.00 963.00) scale(0.915 1)" font-size="10.2" fill="#0a0a0a" text-anchor="start" font-weight="normal" font-family="Liberation Sans, sans-serif" stroke="#0a0a0a" stroke-width="0.22">RSV 120 min a (+)</text>
<text transform="translate(409.60 922.20) scale(0.915 1)" font-size="10.2" fill="#0a0a0a" text-anchor="start" font-weight="normal" font-family="Liberation Sans, sans-serif" stroke="#0a0a0a" stroke-width="0.22">RSV 120 min c (+)</text>
<text transform="translate(433.60 953.30) scale(0.915 1)" font-size="10.2" fill="#0a0a0a" text-anchor="start" font-weight="normal" font-family="Liberation Sans, sans-serif" stroke="#0a0a0a" stroke-width="0.22">RSV 120 min b (+)</text>
<text transform="translate(455.60 910.20) scale(0.915 1)" font-size="10.2" fill="#0a0a0a" text-anchor="start" font-weight="normal" font-family="Liberation Sans, sans-serif" stroke="#0a0a0a" stroke-width="0.22">RMT 120 min a (+)</text>
<text transform="translate(521.40 921.00) scale(0.915 1)" font-size="10.2" fill="#0a0a0a" text-anchor="start" font-weight="normal" font-family="Liberation Sans, sans-serif" stroke="#0a0a0a" stroke-width="0.22">RMT 120 min b (+)</text>
<text transform="translate(517.80 942.60) scale(0.915 1)" font-size="10.2" fill="#0a0a0a" text-anchor="start" font-weight="normal" font-family="Liberation Sans, sans-serif" stroke="#0a0a0a" stroke-width="0.22">RMT 120 min c (+)</text>
<text transform="translate(554.00 974.60) scale(0.915 1)" font-size="10.2" fill="#0a0a0a" text-anchor="start" font-weight="normal" font-family="Liberation Sans, sans-serif" stroke="#0a0a0a" stroke-width="0.22">RMT + RSV 120 min b (+)</text>
<text transform="translate(455.30 995.10) scale(0.915 1)" font-size="10.2" fill="#0a0a0a" text-anchor="start" font-weight="normal" font-family="Liberation Sans, sans-serif" stroke="#0a0a0a" stroke-width="0.22">RMT + RSV 120 min a (+)</text>
<text transform="translate(566.50 999.60) scale(0.915 1)" font-size="10.2" fill="#0a0a0a" text-anchor="start" font-weight="normal" font-family="Liberation Sans, sans-serif" stroke="#0a0a0a" stroke-width="0.22">RMT + RSV 120 min c (+)</text>
<rect x="642.5" y="577.5" width="105.0" height="99.0" fill="#fff" stroke="#5a5a5a" stroke-width="1"/>
<line x1="642.50" y1="676.80" x2="748.00" y2="676.80" stroke="#6a6a6a" stroke-width="0.8" />
<rect x="646.09" y="581.69" width="6.62" height="6.62" fill="#f07818"/>
<text transform="translate(656.80 588.30) scale(0.930 1)" font-size="9.9" fill="#0a0a0a" text-anchor="start" font-weight="normal" font-family="Liberation Sans, sans-serif" stroke="#0a0a0a" stroke-width="0.22">BLK 30 min</text>
<rect x="646.09" y="593.89" width="6.62" height="6.62" fill="none" stroke="#f07818" stroke-width="1"/>
<text transform="translate(656.80 600.50) scale(0.930 1)" font-size="9.9" fill="#0a0a0a" text-anchor="start" font-weight="normal" font-family="Liberation Sans, sans-serif" stroke="#0a0a0a" stroke-width="0.22">BLK 120 min</text>
<path d="M646.04,609.40H652.76M649.40,606.04V612.76M646.04,606.04L652.76,612.76M646.04,612.76L652.76,606.04" stroke="#9c9cff" stroke-width="1.0" fill="none"/>
<circle cx="649.40" cy="609.40" r="1.37" fill="#9c9cff"/>
<text transform="translate(656.80 612.70) scale(0.930 1)" font-size="9.9" fill="#0a0a0a" text-anchor="start" font-weight="normal" font-family="Liberation Sans, sans-serif" stroke="#0a0a0a" stroke-width="0.22">RMT + RSV 30 min</text>
<path d="M646.04,621.60H652.76M649.40,618.24V624.96M646.04,618.24L652.76,624.96M646.04,624.96L652.76,618.24" stroke="#9933cc" stroke-width="1.0" fill="none"/>
<circle cx="649.40" cy="621.60" r="1.37" fill="#9933cc"/>
<text transform="translate(656.80 624.90) scale(0.930 1)" font-size="9.9" fill="#0a0a0a" text-anchor="start" font-weight="normal" font-family="Liberation Sans, sans-serif" stroke="#0a0a0a" stroke-width="0.22">RMT + RSV 120 min</text>
<polygon points="649.40,629.81 653.39,633.80 649.40,637.79 645.41,633.80" fill="#000099"/>
<text transform="translate(656.80 637.10) scale(0.930 1)" font-size="9.9" fill="#0a0a0a" text-anchor="start" font-weight="normal" font-family="Liberation Sans, sans-serif" stroke="#0a0a0a" stroke-width="0.22">RMT 30 min</text>
<polygon points="649.40,641.54 653.86,646.00 649.40,650.46 644.94,646.00" fill="none" stroke="#1f4e8c" stroke-width="1.1"/>
<text transform="translate(656.80 649.30) scale(0.930 1)" font-size="9.9" fill="#0a0a0a" text-anchor="start" font-weight="normal" font-family="Liberation Sans, sans-serif" stroke="#0a0a0a" stroke-width="0.22">RMT 120 min</text>
<polygon points="649.40,654.85 652.55,661.35 646.25,661.35" fill="#7f7f7f"/>
<text transform="translate(656.80 661.50) scale(0.930 1)" font-size="9.9" fill="#0a0a0a" text-anchor="start" font-weight="normal" font-family="Liberation Sans, sans-serif" stroke="#0a0a0a" stroke-width="0.22">RSV 30 min</text>
<polygon points="649.40,666.85 653.18,673.65 645.62,673.65" fill="none" stroke="#7f7f7f" stroke-width="1"/>
<text transform="translate(656.80 673.70) scale(0.930 1)" font-size="9.9" fill="#0a0a0a" text-anchor="start" font-weight="normal" font-family="Liberation Sans, sans-serif" stroke="#0a0a0a" stroke-width="0.22">RSV 120 min</text>
</svg>
</body></html>
